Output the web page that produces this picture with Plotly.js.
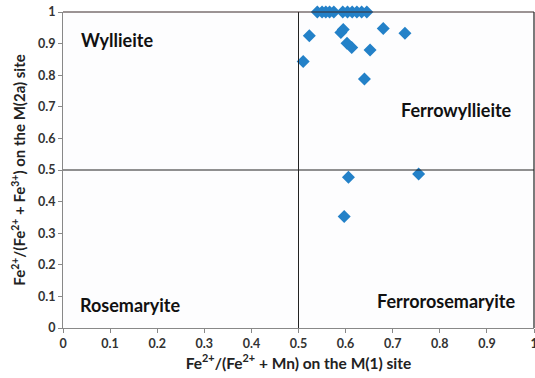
<!DOCTYPE html>
<html>
<head>
<meta charset="utf-8">
<script src="https://cdn.plot.ly/plotly-3.0.1.min.js"></script>
<style>html,body{margin:0;padding:0;background:#fff;}#chart{width:535px;height:378px;}</style>
</head>
<body>
<div id="chart"></div>
<script>
// Fe2+/(Fe2+ + Mn) on M(1) site
const feM1 = [0.540, 0.550, 0.558, 0.566, 0.575, 0.594, 0.604, 0.614, 0.624, 0.634, 0.645,
              0.510, 0.523, 0.590, 0.595, 0.680, 0.726, 0.603, 0.613, 0.652, 0.640,
              0.606, 0.755, 0.597];
// Fe2+/(Fe2+ + Fe3+) on M(2a) site
const feM2a = [1.0, 1.0, 1.0, 1.0, 1.0, 1.0, 1.0, 1.0, 1.0, 1.0, 1.0,
               0.843, 0.925, 0.935, 0.945, 0.948, 0.933, 0.901, 0.888, 0.880, 0.788,
               0.477, 0.487, 0.353];
const fieldNames = ["Wyllieite", "Ferrowyllieite", "Rosemaryite", "Ferrorosemaryite"];
const fieldX = [0.035, 0.958, 0.032, 0.963];
const fieldY = [0.91, 0.69, 0.073, 0.085];
const fieldAnchor = ["left", "right", "left", "right"];
const ticks = [0, 0.1, 0.2, 0.3, 0.4, 0.5, 0.6, 0.7, 0.8, 0.9, 1];
const tickText = ["0", "0.1", "0.2", "0.3", "0.4", "0.5", "0.6", "0.7", "0.8", "0.9", "1"];
const boundary = 0.5;

const fontFam = "Lato, 'Open Sans', sans-serif";

const trace = {
  x: feM1, y: feM2a, type: "scatter", mode: "markers",
  marker: {symbol: "diamond", size: 10, color: "#2381C8"},
  cliponaxis: false, hoverinfo: "x+y"
};

const annotations = fieldNames.map((n, i) => ({
  x: fieldX[i], y: fieldY[i], xref: "x", yref: "y", text: n, showarrow: false,
  xanchor: fieldAnchor[i], yanchor: "middle",
  font: {family: fontFam, size: 18, color: "#111", weight: "bold"}
}));

const layout = {
  width: 535, height: 378,
  margin: {l: 63, r: 1, t: 12, b: 50},
  paper_bgcolor: "#ffffff", plot_bgcolor: "#fdfdfe",
  showlegend: false,
  font: {family: fontFam, color: "#333"},
  xaxis: {
    range: [0, 1], tickvals: ticks, ticktext: tickText, showgrid: false, zeroline: false,
    showline: true, linecolor: "#888", linewidth: 1, ticks: "outside", ticklen: 4, tickcolor: "#888",
    ticklabeloverflow: "allow",
    tickfont: {size: 12.5, color: "#333", family: fontFam, weight: "bold"},
    title: {text: "<b>Fe<sup>2+</sup>/(Fe<sup>2+</sup> + Mn) on the M(1) site</b>", font: {size: 15.5, color: "#222", family: fontFam}, standoff: 6}
  },
  yaxis: {
    range: [0, 1], tickvals: ticks, ticktext: tickText, showgrid: false, zeroline: false,
    showline: true, linecolor: "#888", linewidth: 1, ticks: "outside", ticklen: 4, tickcolor: "#888",
    tickfont: {size: 12.5, color: "#333", family: fontFam, weight: "bold"},
    title: {text: "<b>Fe<sup>2+</sup>/(Fe<sup>2+</sup> + Fe<sup>3+</sup>) on the M(2a) site</b>", font: {size: 15, color: "#222", family: fontFam}, standoff: 8}
  },
  annotations: annotations,
  shapes: [
    {type: "line", xref: "x", yref: "y", x0: boundary, x1: boundary, y0: 0, y1: 1, line: {color: "#222", width: 1}},
    {type: "line", xref: "x", yref: "y", x0: 0, x1: 1, y0: boundary, y1: boundary, line: {color: "#222", width: 1}},
    {type: "line", xref: "paper", yref: "paper", x0: 0, x1: 1, y0: 1, y1: 1, line: {color: "#3a2a2a", width: 1.2}},
    {type: "line", xref: "paper", yref: "paper", x0: 1, x1: 1, y0: 0, y1: 1, line: {color: "#222", width: 1.2}}
  ]
};

Plotly.newPlot("chart", [trace], layout, {staticPlot: true, displayModeBar: false});
</script>
</body>
</html>
